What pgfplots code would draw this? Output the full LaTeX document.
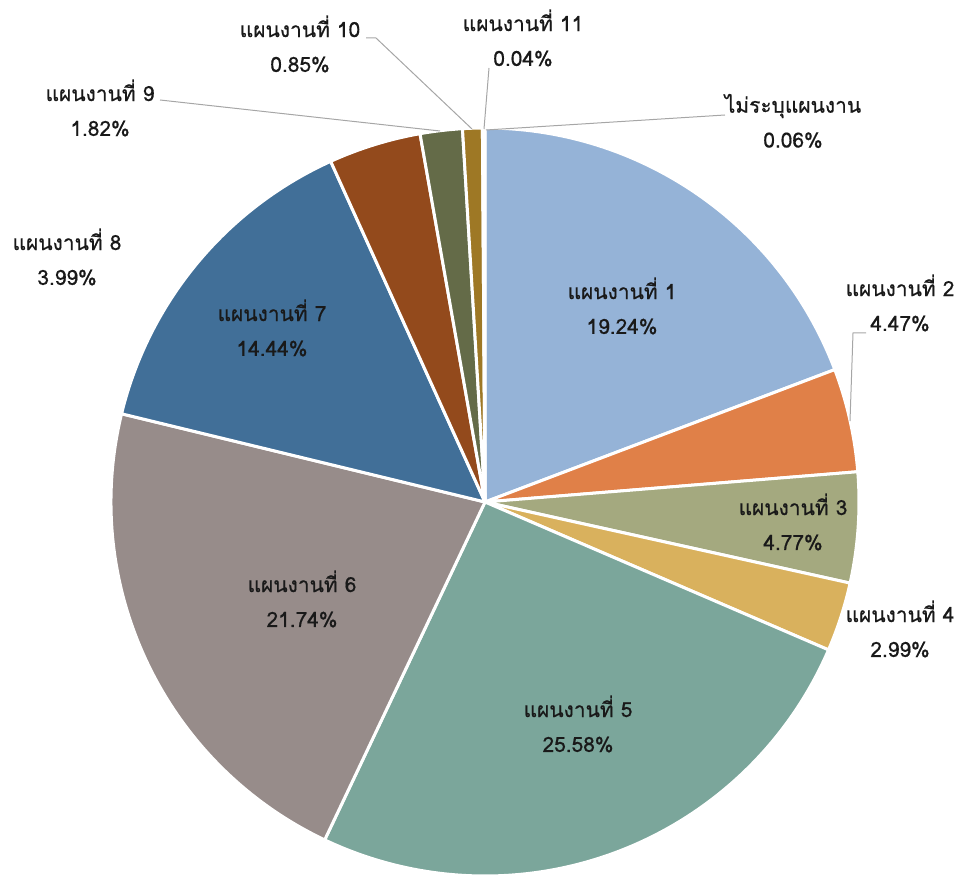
\documentclass[border=0pt]{standalone}
\usepackage{pgfplots}
\usepackage{pgfplotstable}
\pgfplotsset{compat=1.18}
\usepackage{fontspec}
\setmainfont[Script=Thai, FakeBold=0.6]{Loma}

\definecolor{c1}{HTML}{95B3D7}
\definecolor{c2}{HTML}{E08048}
\definecolor{c3}{HTML}{A4A97F}
\definecolor{c4}{HTML}{D9B15D}
\definecolor{c5}{HTML}{7BA69B}
\definecolor{c6}{HTML}{978C8A}
\definecolor{c7}{HTML}{416F98}
\definecolor{c8}{HTML}{934A1C}
\definecolor{c9}{HTML}{646B48}
\definecolor{c10}{HTML}{9E7825}
\definecolor{c11}{HTML}{7F7F7F}
\definecolor{c12}{HTML}{4F6228}
\definecolor{leader}{HTML}{A6A6A6}

% share of each plan, clockwise from 12 o'clock
\pgfplotstableread{
val   col
19.24 c1
4.47  c2
4.77  c3
2.99  c4
25.58 c5
21.74 c6
14.44 c7
3.99  c8
1.82  c9
0.85  c10
0.04  c11
0.06  c12
}\piedata

\begin{document}
\begin{tikzpicture}
\begin{axis}[
x=1bp, y=1bp,
y dir=reverse,
xmin=0, xmax=957,
ymin=0, ymax=876,
hide axis,
clip=false,
]
\path (axis cs:0,0) rectangle (axis cs:957,876);
\def\cum{0}
\pgfplotsforeachungrouped \i in {0,...,11}{
  \pgfplotstablegetelem{\i}{val}\of\piedata \let\sliceval\pgfplotsretval
  \pgfplotstablegetelem{\i}{col}\of\piedata \let\slicecol\pgfplotsretval
  \pgfmathsetmacro\sa{90-3.6*\cum}
  \pgfmathsetmacro\sb{90-3.6*(\cum+\sliceval)}
  \edef\cmd{\noexpand\filldraw[fill=\slicecol, draw=white, line width=3bp, line join=round]
    (axis cs:485,502) -- ++(\sa:374bp) arc[start angle=\sa, end angle=\sb, radius=374bp] -- cycle;}
  \cmd
  \pgfmathsetmacro\cum{\cum+\sliceval}
}

% leader lines
\draw[leader, line width=1bp] (axis cs:850,421) -- (axis cs:853,333) -- (axis cs:866,333);
\draw[leader, line width=1bp] (axis cs:160,100) -- (axis cs:440,131);
\draw[leader, line width=1bp] (axis cs:366,38) -- (axis cs:376,38) -- (axis cs:472,129);
\draw[leader, line width=1bp] (axis cs:489,68) -- (axis cs:484,129);
\draw[leader, line width=1bp] (axis cs:725,115) -- (axis cs:486,130);

\tikzset{lbl/.style={align=center, font=\fontsize{21}{35}\selectfont, text=black!90, inner sep=0pt}}
\node[lbl] at (axis cs:622,306) {แผนงานที่ 1\\19.24\%};
\node[lbl] at (axis cs:900,303) {แผนงานที่ 2\\4.47\%};
\node[lbl] at (axis cs:793,522) {แผนงานที่ 3\\4.77\%};
\node[lbl] at (axis cs:900,629) {แผนงานที่ 4\\2.99\%};
\node[lbl] at (axis cs:578,724) {แผนงานที่ 5\\25.58\%};
\node[lbl] at (axis cs:302,599) {แผนงานที่ 6\\21.74\%};
\node[lbl] at (axis cs:272,328) {แผนงานที่ 7\\14.44\%};
\node[lbl] at (axis cs:67,257) {แผนงานที่ 8\\3.99\%};
\node[lbl] at (axis cs:100,108) {แผนงานที่ 9\\1.82\%};
\node[lbl] at (axis cs:300,44) {แผนงานที่ 10\\0.85\%};
\node[lbl] at (axis cs:523,38) {แผนงานที่ 11\\0.04\%};
\node[lbl] at (axis cs:793,121) {ไม่ระบุแผนงาน\\0.06\%};
\end{axis}
\end{tikzpicture}
\end{document}
